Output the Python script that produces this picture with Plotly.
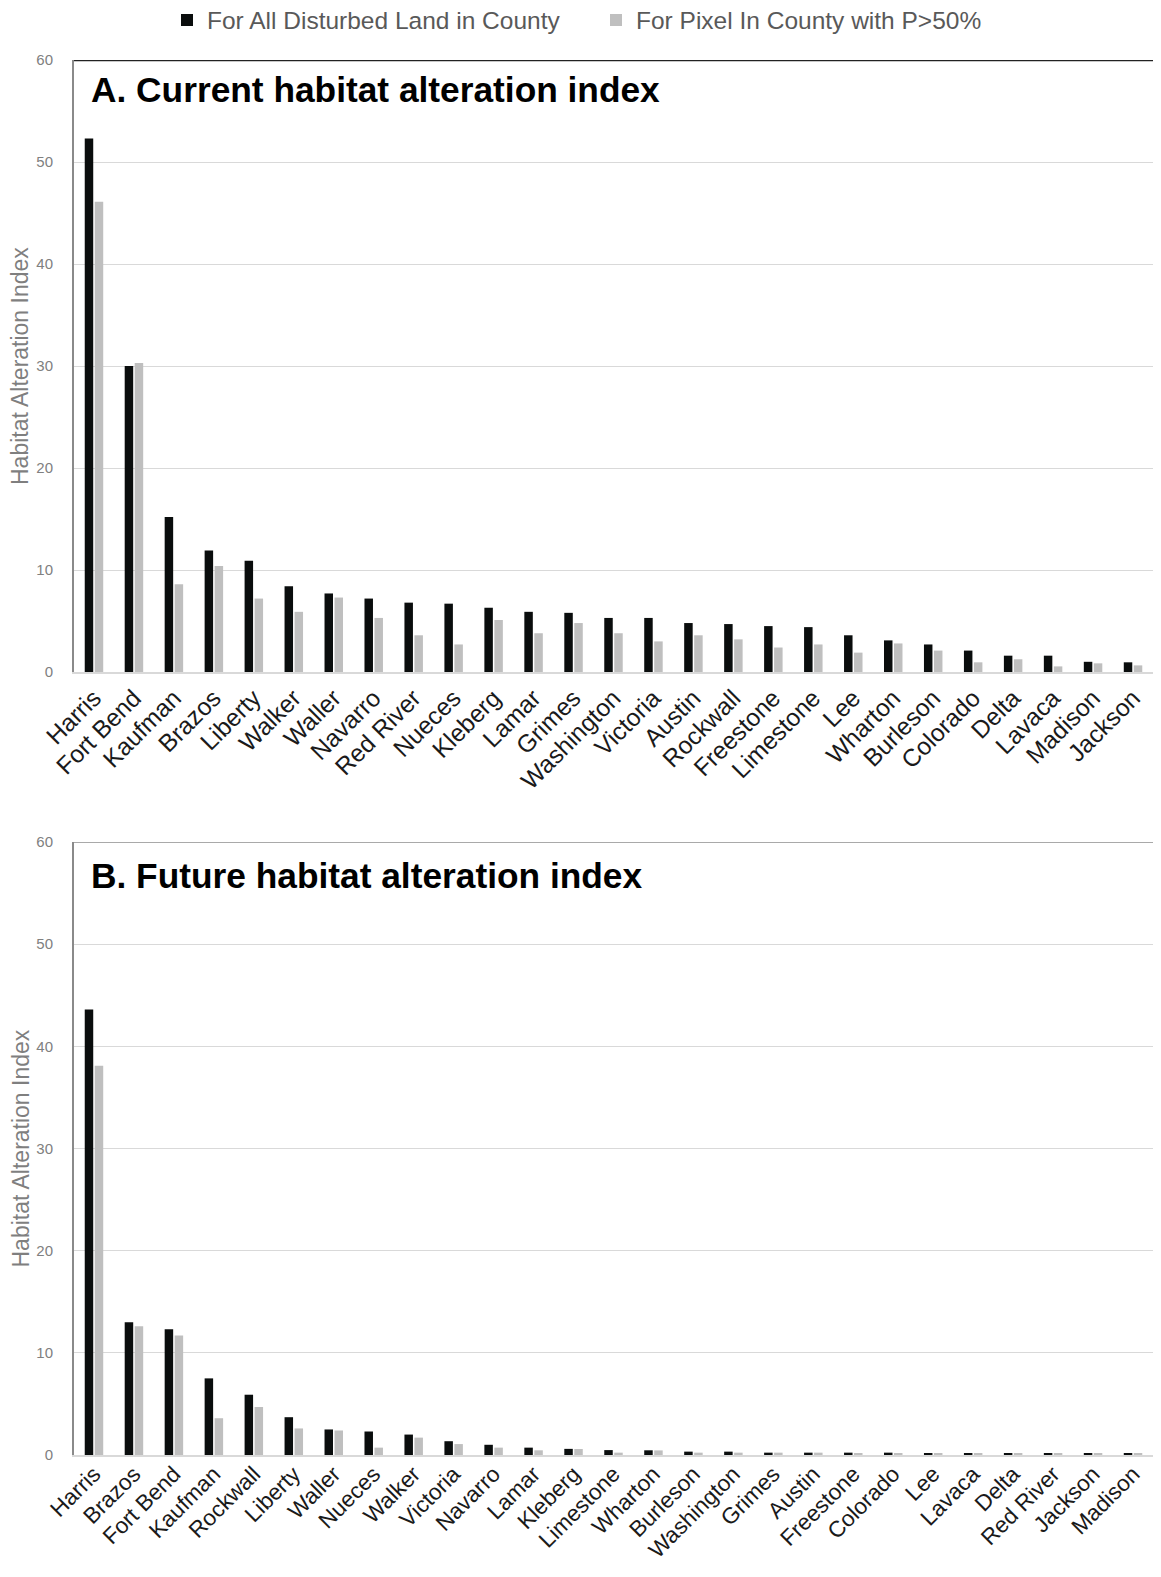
import plotly.graph_objects as go

# ---------------- data ----------------
counties_a = ["Harris", "Fort Bend", "Kaufman", "Brazos", "Liberty", "Walker", "Waller",
              "Navarro", "Red River", "Nueces", "Kleberg", "Lamar", "Grimes", "Washington",
              "Victoria", "Austin", "Rockwall", "Freestone", "Limestone", "Lee", "Wharton",
              "Burleson", "Colorado", "Delta", "Lavaca", "Madison", "Jackson"]
black_a = [52.3, 30.0, 15.2, 11.9, 10.9, 8.4, 7.7, 7.2, 6.8, 6.7, 6.3, 5.9, 5.8, 5.3,
           5.3, 4.8, 4.7, 4.5, 4.4, 3.6, 3.1, 2.7, 2.1, 1.6, 1.6, 1.0, 0.95]
gray_a = [46.1, 30.3, 8.6, 10.4, 7.2, 5.9, 7.3, 5.3, 3.6, 2.7, 5.1, 3.8, 4.8, 3.8,
          3.0, 3.6, 3.2, 2.4, 2.7, 1.9, 2.8, 2.1, 0.95, 1.25, 0.55, 0.85, 0.65]

counties_b = ["Harris", "Brazos", "Fort Bend", "Kaufman", "Rockwall", "Liberty", "Waller",
              "Nueces", "Walker", "Victoria", "Navarro", "Lamar", "Kleberg", "Limestone",
              "Wharton", "Burleson", "Washington", "Grimes", "Austin", "Freestone",
              "Colorado", "Lee", "Lavaca", "Delta", "Red River", "Jackson", "Madison"]
black_b = [43.6, 13.0, 12.3, 7.5, 5.9, 3.7, 2.5, 2.3, 2.0, 1.35, 1.0, 0.72, 0.6, 0.48,
           0.46, 0.33, 0.33, 0.23, 0.23, 0.23, 0.23, 0.16, 0.15, 0.15, 0.15, 0.15, 0.14]
gray_b = [38.1, 12.6, 11.7, 3.6, 4.7, 2.6, 2.4, 0.72, 1.7, 1.07, 0.72, 0.46, 0.59, 0.23,
          0.45, 0.23, 0.23, 0.23, 0.23, 0.16, 0.16, 0.16, 0.13, 0.13, 0.12, 0.12, 0.12]

y_ticks = [0, 10, 20, 30, 40, 50, 60]
legend_names = ["For All Disturbed Land in County", "For Pixel In County with P>50%"]
panel_titles = ["A. Current habitat alteration index", "B. Future habitat alteration index"]
y_title = "Habitat Alteration Index"

# ---------------- style ----------------
FONT = "Liberation Sans, Arial, sans-serif"
BLACK = "#0a0d0d"
GRAY = "#bfbfbf"
OFF = 8                                   # default page body margin
W, H = 1161 - 2 * OFF, 1577 - 2 * OFF     # figure fits the window exactly
ML, MR, MT = 74 - OFF, 0, 60 - OFF
MB = H - (1455 - OFF)
plot_h = H - MT - MB
a_bottom = 672 - OFF
b_top = 842 - OFF
dom_a = [(H - MB - a_bottom) / plot_h, 1.0]
dom_b = [0.0, (H - MB - b_top) / plot_h]
plot_w = W - ML - MR

fig = go.Figure()
fig.add_bar(x=counties_a, y=black_a, name=legend_names[0], marker_color=BLACK,
            xaxis="x", yaxis="y", legendgroup="k")
fig.add_bar(x=counties_a, y=gray_a, name=legend_names[1], marker_color=GRAY,
            xaxis="x", yaxis="y", legendgroup="g")
fig.add_bar(x=counties_b, y=black_b, name=legend_names[0], marker_color=BLACK,
            xaxis="x2", yaxis="y2", legendgroup="k", showlegend=False)
fig.add_bar(x=counties_b, y=gray_b, name=legend_names[1], marker_color=GRAY,
            xaxis="x2", yaxis="y2", legendgroup="g", showlegend=False)

xax = dict(domain=[0, 1], tickangle=-45, tickfont=dict(size=24.5, color="#1a1a1a", family=FONT),
           showline=True, linecolor="#d9d9d9", linewidth=2, ticks="", showgrid=False,
           zeroline=False, automargin=False)
yax = dict(range=[0, 60], tickvals=y_ticks, showgrid=True, gridcolor="#d9d9d9", gridwidth=1,
           showline=True, linecolor="#8a8a8a", linewidth=2, ticks="",
           tickfont=dict(size=15, color="#808080", family=FONT), ticklabelstandoff=16,
           zeroline=False, automargin=False)
xax_b = dict(xax, tickfont=dict(size=22.5, color="#1a1a1a", family=FONT), ticklabelstandoff=-5)

fig.update_layout(
    template="none",
    width=W, height=H,
    margin=dict(l=ML, r=MR, t=MT, b=MB),
    paper_bgcolor="white", plot_bgcolor="white",
    font=dict(family=FONT),
    barmode="group", bargap=0.5, bargroupgap=0.15,
    xaxis=dict(xax, anchor="y"),
    yaxis=dict(yax, domain=dom_a, anchor="x"),
    xaxis2=dict(xax_b, anchor="y2"),
    yaxis2=dict(yax, domain=dom_b, anchor="x2"),
    showlegend=True,
    legend=dict(orientation="h", xref="container", yref="container",
                x=(207 - OFF - 40) / W, xanchor="left",
                y=1 - (20 - OFF) / H, yanchor="middle", entrywidth=384, entrywidthmode="pixels",
                font=dict(size=24.5, color="#595959", family=FONT),
                traceorder="normal", bgcolor="rgba(0,0,0,0)"),
)

# top border lines at 60
fig.add_shape(type="line", xref="x domain", yref="y", x0=0, x1=1, y0=60, y1=60,
              line=dict(color="#222222", width=2.5))
fig.add_shape(type="line", xref="x2 domain", yref="y2", x0=0, x1=1, y0=60, y1=60,
              line=dict(color="#8c8c8c", width=1.5))

# panel titles
fig.add_annotation(text="<b>" + panel_titles[0] + "</b>", xref="x domain", yref="y",
                   x=(89 - 74) / plot_w, y=57.1, xanchor="left", yanchor="middle",
                   showarrow=False, font=dict(size=35.3, color="#000000", family=FONT))
fig.add_annotation(text="<b>" + panel_titles[1] + "</b>", xref="x2 domain", yref="y2",
                   x=(89 - 74) / plot_w, y=56.7, xanchor="left", yanchor="middle",
                   showarrow=False, font=dict(size=35.3, color="#000000", family=FONT))

# y-axis titles
for yref in ["y", "y2"]:
    fig.add_annotation(text=y_title, xref="paper", yref=yref + " domain",
                       x=(20 - 74) / plot_w, y=0.5, xanchor="center", yanchor="middle",
                       textangle=-90, showarrow=False,
                       font=dict(size=23, color="#7f7f7f", family=FONT))

fig.write_html("out.html", config={"displayModeBar": False})
